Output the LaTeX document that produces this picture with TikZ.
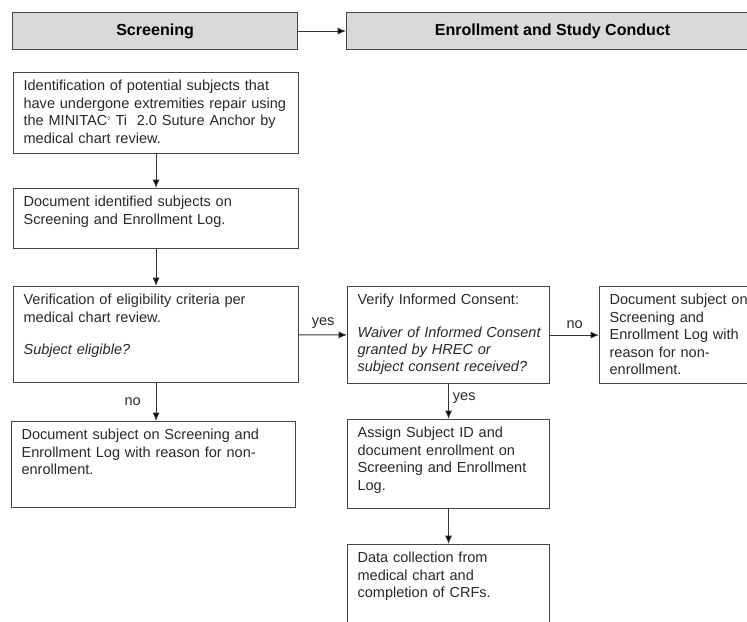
\documentclass[tikz,border=0pt]{standalone}
\usepackage{fontspec}
\setmainfont{Liberation Sans}
\usepackage{xcolor}
\usepackage{tikz}
\definecolor{boxline}{RGB}{70,70,70}
\definecolor{headfill}{RGB}{217,217,217}
\definecolor{bodytext}{RGB}{40,40,40}
\usetikzlibrary{arrows.meta,positioning}

\begin{document}
\begin{tikzpicture}[
    phase/.style={
        rectangle,
        draw=boxline,
        fill=headfill,
        line width=1pt,
        anchor=north west,
        minimum height=1.11cm,
        font=\fontsize{13.7}{16}\selectfont\bfseries,
        text=black
    },
    stepbox/.style={
        rectangle,
        draw=boxline,
        line width=1pt,
        anchor=north west,
        align=left,
        text width=#1,
        inner xsep=0.3cm,
        inner ysep=0.22cm,
        text height=0.33cm,
        font=\fontsize{12.4}{14.9}\selectfont,
        text=bodytext
    },
    arrow/.style={-{Latex[length=2.5mm,width=2.1mm,fill=black]},line width=0.8pt,draw=black!80},
    answer/.style={font=\fontsize{12.4}{14.9}\selectfont, text=bodytext}
]
    \useasboundingbox (0,0) rectangle (22.41,-18.66);

    % Phase headers
    \node[phase, minimum width=8.55cm] (screen) at (0.36,-0.36) {Screening};
    \node[phase, minimum width=12.36cm] (enroll) at (10.38,-0.36) {Enrollment and Study Conduct};

    % Screening column
    \node[stepbox=7.95cm, text depth=1.66cm] (ident) at (0.39,-2.16)
        {Identification of potential subjects that\\
         have undergone extremities repair using\\
         the MINITAC\textsuperscript{\tiny ◊} Ti\ \ 2.0 Suture Anchor by\\
         medical chart review.};
    \node[stepbox=7.95cm, text depth=1.03cm] (logged) at (0.39,-5.64)
        {Document identified subjects on\\
         Screening and Enrollment Log.};
    \node[stepbox=7.95cm, text depth=2.11cm] (elig) at (0.39,-8.58)
        {Verification of eligibility criteria per\\
         medical chart review.\\[0.44cm]
         \textit{Subject eligible?}};
    \node[stepbox=7.92cm, text depth=1.81cm] (noelig) at (0.33,-12.63)
        {Document subject on Screening and\\
         Enrollment Log with reason for non-\\
         enrollment.};

    % Enrollment column
    \node[stepbox=5.46cm, text depth=2.14cm] (consent) at (10.41,-8.58)
        {Verify Informed Consent:\\[0.44cm]
         \mbox{\textit{Waiver of Informed Consent}}\\
         \mbox{\textit{granted by HREC or}}\\
         \mbox{\textit{subject consent received?}}};
    \node[stepbox=4.23cm, text depth=2.14cm] (noconsent) at (17.97,-8.58)
        {\mbox{Document subject on}\\
         Screening and\\
         Enrollment Log with\\
         reason for non-\\
         enrollment.};
    \node[stepbox=5.46cm, text depth=1.90cm] (assign) at (10.41,-12.57)
        {Assign Subject ID and\\
         document enrollment on\\
         \mbox{Screening and Enrollment}\\
         Log.};
    \node[stepbox=5.46cm, text depth=2.23cm] (collect) at (10.41,-16.32)
        {Data collection from\\
         medical chart and\\
         completion of CRFs.};

    % Arrows
    \draw[arrow] (screen) -- (enroll);
    \draw[arrow] (ident) -- (logged);
    \draw[arrow] (logged) -- (elig);
    \draw[arrow] (elig.south) -- node[answer, left=0.33cm] (eligno) {no} (elig.south |- noelig.north);
    \draw[arrow] (elig) -- node[answer, above=0.05cm] (eligyes) {yes} (consent);
    \draw[arrow] (consent) -- node[answer, above=0.05cm] (consentno) {no} (noconsent);
    \draw[arrow] (consent) -- node[answer, right, pos=0.4] (consentyes) {yes} (assign);
    \draw[arrow] (assign) -- (collect);
\end{tikzpicture}
\end{document}
